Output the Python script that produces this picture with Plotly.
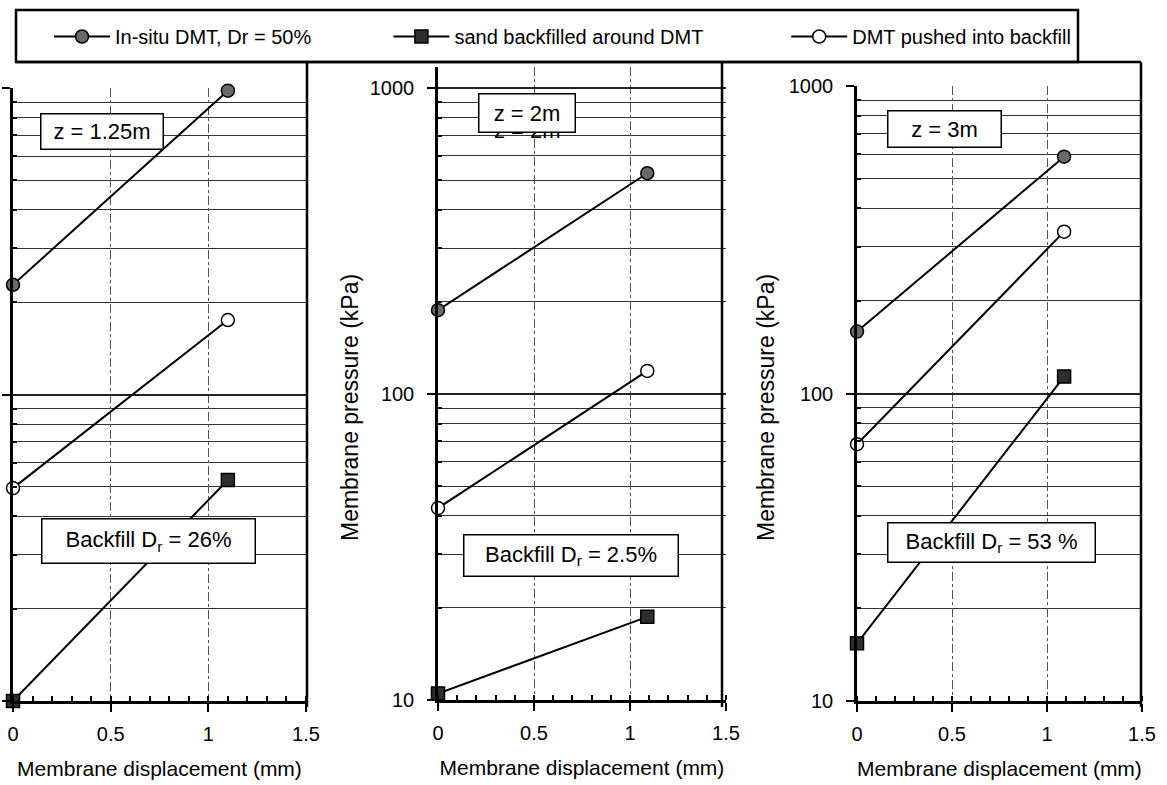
import plotly.graph_objects as go

W, H = 1167, 785


def px(x):
    return x / W


def py(y):
    return 1 - y / H


# ---------------- data ----------------
series_names = ["In-situ DMT, Dr = 50%", "sand backfilled around DMT", "DMT pushed into backfill"]
legend_pad = [13, 14, 0]  # trailing non-breaking spaces to spread legend entries

disp_left = [0, 1.1]
disp_mid = [0, 1.09]
disp_right = [0, 1.09]

insitu_left = [228, 980]
backfill_left = [10, 52.6]
pushed_left = [49.5, 175]

insitu_mid = [188, 527]
backfill_mid = [10.5, 18.7]
pushed_mid = [42.4, 119]

insitu_right = [159, 589]
backfill_right = [15.4, 113.5]
pushed_right = [68.4, 336]

x_ticks = [0, 0.5, 1, 1.5]
x_ticktext = ["0", "0.5", "1", "1.5"]
y_ticks = [10, 100, 1000]
y_ticktext = ["10", "100", "1000"]
y_minor = [20, 30, 40, 50, 60, 70, 80, 90, 200, 300, 400, 500, 600, 700, 800, 900]

x_title = "Membrane displacement (mm)"
y_title = "Membrane pressure (kPa)"
depth_labels = ["z = 1.25m", "z = 2m", "z = 3m"]
backfill_labels = ["Backfill D<sub>r</sub> = 26%", "Backfill D<sub>r</sub> = 2.5%", "Backfill D<sub>r</sub> = 53 %"]

FONT = "Liberation Sans, Arial, sans-serif"

panels = [
    (disp_left, insitu_left, backfill_left, pushed_left, ""),
    (disp_mid, insitu_mid, backfill_mid, pushed_mid, "2"),
    (disp_right, insitu_right, backfill_right, pushed_right, "3"),
]

styles = [
    dict(symbol="circle", size=13, color="#6a6a6a", line=dict(color="black", width=1.5)),
    dict(symbol="square", size=13, color="#2e2e2e", line=dict(color="black", width=1.5)),
    dict(symbol="circle", size=13, color="white", line=dict(color="black", width=1.5)),
]

fig = go.Figure()
for i, (xd, a, b, c, s) in enumerate(panels):
    for j, yv in enumerate([a, b, c]):
        fig.add_trace(go.Scatter(
            x=xd, y=yv, mode="lines+markers",
            name=series_names[j] + "\u00a0" * legend_pad[j],
            legendrank=j,
            showlegend=(i == 0),
            line=dict(color="black", width=2),
            marker=styles[j],
            cliponaxis=False,
            xaxis="x" + s, yaxis="y" + s,
        ))

x_domains = [[px(13), px(306)], [px(438), px(726)], [px(857), px(1142)]]
y_domains = [[py(701), py(88)], [py(700), py(67)], [py(701), py(86)]]
y_ranges = [[1, 3], [1, 3.069], [1, 3]]

layout = dict(
    width=W, height=H,
    margin=dict(l=0, r=0, t=0, b=0, autoexpand=False),
    paper_bgcolor="white", plot_bgcolor="white",
    font=dict(family=FONT, size=20, color="black"),
    showlegend=True,
    legend=dict(orientation="h", x=px(49), y=py(17), xanchor="left", yanchor="top",
                bgcolor="rgba(0,0,0,0)", borderwidth=0, itemwidth=56,
                font=dict(size=20, family=FONT), traceorder="normal"),
)

for i in range(3):
    s = "" if i == 0 else str(i + 1)
    layout["xaxis" + s] = dict(
        domain=x_domains[i], range=[0, 1.5], anchor="y" + s, automargin=False,
        tickmode="array", tickvals=x_ticks, ticktext=x_ticktext,
        ticks="outside", ticklen=8, tickwidth=2, tickcolor="black",
        ticklabelstandoff=5,
        showgrid=True, gridcolor="#555", gridwidth=1, griddash="dashdot",
        minor=dict(dtick=0.1, ticks="inside", ticklen=5, tickwidth=1.5, tickcolor="black", showgrid=False),
        showline=True, linecolor="black", linewidth=2.5, zeroline=False,
        tickfont=dict(size=20),
        title=dict(text=x_title, font=dict(size=21), standoff=18),
    )
    layout["yaxis" + s] = dict(
        type="log", domain=y_domains[i], range=y_ranges[i], anchor="x" + s, automargin=False,
        tickmode="array", tickvals=y_ticks, ticktext=y_ticktext,
        showticklabels=(i > 0), ticklabelstandoff=9,
        ticks="outside", ticklen=8, tickwidth=2, tickcolor="black",
        showgrid=True, gridcolor="#222", gridwidth=1.6,
        minor=dict(tickmode="array", tickvals=y_minor, ticks="inside", ticklen=4,
                   tickwidth=1.5, tickcolor="black", showgrid=True, gridcolor="#333", gridwidth=1),
        showline=True, linecolor="black", linewidth=2.5, zeroline=False,
        tickfont=dict(size=20),
    )

fig.update_layout(**layout)

# frame lines (figure decoration)
line_style = dict(color="black", width=2.5)
shapes = [
    dict(type="rect", xref="paper", yref="paper", x0=px(16), x1=px(1078), y0=py(10), y1=py(62), line=line_style),
    dict(type="line", xref="paper", yref="paper", x0=px(16), x1=px(1141), y0=py(62), y1=py(62), line=line_style),
    dict(type="line", xref="paper", yref="paper", x0=px(307), x1=px(307), y0=py(62), y1=py(707), line=line_style),
    dict(type="line", xref="paper", yref="paper", x0=px(722), x1=px(722), y0=py(62), y1=py(707), line=line_style),
    dict(type="line", xref="paper", yref="paper", x0=px(1141), x1=px(1141), y0=py(62), y1=py(707), line=line_style),
]
fig.update_layout(shapes=shapes)

# text boxes: (left, top, width, height)
depth_boxes = [(40, 113, 124, 37), (478, 93, 98, 40), (887, 110, 115, 38)]
backfill_boxes = [(41, 518, 215, 46), (463, 534, 216, 43), (887, 522, 209, 41)]

annotations = []
# y-axis titles of the middle and right panels
for xc in (350, 766):
    annotations.append(dict(xref="paper", yref="paper", x=px(xc), y=py(408), xanchor="center", yanchor="middle",
                            text=y_title, textangle=-90, showarrow=False, font=dict(size=23, family=FONT)))
# ghost duplicate label visible in the scanned original
annotations.append(dict(xref="paper", yref="paper", x=px(527), y=py(131), xanchor="center", yanchor="middle",
                        text=depth_labels[1], showarrow=False, font=dict(size=22, family=FONT)))


def box(label, b):
    l, t, w, h = b
    return dict(xref="paper", yref="paper", x=px(l), y=py(t), xanchor="left", yanchor="top",
                text=label, showarrow=False, font=dict(size=22, family=FONT),
                bgcolor="white", bordercolor="black", borderwidth=1.5, borderpad=2,
                width=w - 7, height=h - 7, align="center", valign="middle")


for lab, b in zip(depth_labels, depth_boxes):
    annotations.append(box(lab, b))
for lab, b in zip(backfill_labels, backfill_boxes):
    annotations.append(box(lab, b))

fig.update_layout(annotations=annotations)

fig.write_html("out.html", config={"displayModeBar": False},
               post_script="document.body.style.margin='0';document.body.style.overflow='hidden';")
